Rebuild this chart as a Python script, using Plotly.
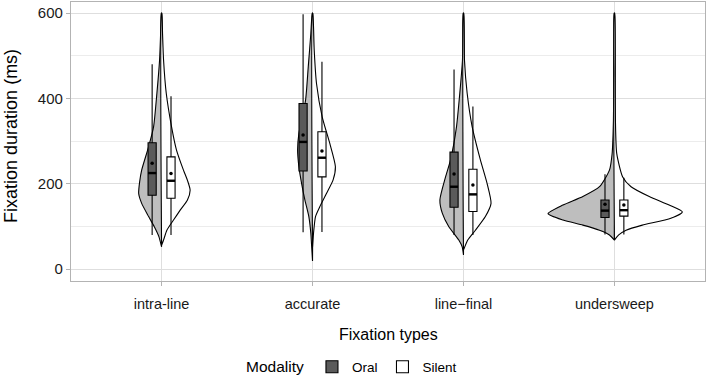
import plotly.graph_objects as go

# ---------------- data ----------------
CATEGORIES = ["intra-line", "accurate", "line\u2212final", "undersweep"]
MODALITIES = ["Oral", "Silent"]

# box-plot statistics per category (ms)
ORAL_Q1 = [173, 230, 145, 121]
ORAL_MEDIAN = [225, 298, 193, 137]
ORAL_Q3 = [296, 388, 274, 162]
ORAL_LOW = [80, 86, 80, 81]
ORAL_HIGH = [480, 597, 468, 222]
ORAL_MEAN = [248, 314, 223, 152]

SILENT_Q1 = [166, 216, 135, 124]
SILENT_MEDIAN = [207, 261, 175, 138]
SILENT_Q3 = [263, 322, 234, 162]
SILENT_LOW = [80, 87, 80, 81]
SILENT_HIGH = [405, 486, 381, 214]
SILENT_MEAN = [224, 277, 197, 150]

# violin density profiles (duration in ms, relative density)
INTRA_ORAL_Y = [52, 76, 99, 123, 154, 177, 205, 232, 287, 334, 412, 490, 550, 600]
INTRA_ORAL_D = [0, 2.7, 7.3, 13, 20, 23, 22, 20, 13, 8, 4.7, 2, 1, 0.3]
INTRA_SILENT_Y = [56, 68, 91, 115, 138, 162, 185, 208, 232, 279, 334, 412, 490, 550, 600]
INTRA_SILENT_D = [0, 2, 5.3, 12, 18.7, 26, 28.7, 26, 22, 15, 10, 4.7, 2, 1, 0.3]

ACC_ORAL_Y = [19, 50, 84, 123, 162, 201, 240, 279, 318, 396, 474, 552, 600]
ACC_ORAL_D = [0, 0.8, 1.7, 3.7, 7.7, 11, 13.7, 15, 13.7, 7, 4.3, 1.7, 0.3]
ACC_SILENT_Y = [52, 84, 123, 146, 177, 209, 240, 295, 357, 435, 513, 600]
ACC_SILENT_D = [0, 1, 3, 7.3, 14, 20.7, 23, 17.3, 9.7, 4, 1.7, 0.3]

LF_ORAL_Y = [33, 52, 68, 99, 131, 162, 216, 256, 334, 412, 490, 600]
LF_ORAL_D = [0, 1.3, 4.7, 14.7, 21.3, 23.7, 18, 13, 7, 3.7, 1, 0.3]
LF_SILENT_Y = [45, 52, 68, 91, 123, 154, 201, 256, 334, 412, 490, 600]
LF_SILENT_D = [0, 1.3, 4.3, 12, 22, 27.7, 23.7, 17, 8.7, 3.7, 1, 0.3]

US_ORAL_Y = [68, 80, 91, 103, 115, 130, 150, 170, 193, 232, 271, 349, 450, 600]
US_ORAL_D = [0, 5, 15, 31.7, 51.7, 66.7, 51.7, 31.7, 15, 5, 2.3, 1, 0.6, 0.3]
US_SILENT_Y = [68, 80, 91, 103, 119, 134, 150, 170, 193, 216, 271, 349, 450, 600]
US_SILENT_D = [0, 4.3, 11.7, 28, 56.7, 68.3, 55, 35, 16.7, 8.3, 2.3, 1, 0.6, 0.3]

Y_TICKS = [0, 200, 400, 600]
Y_MINOR = [100, 300, 500]

# ---------------- styling ----------------
ORAL_VIOLIN = "#BEBEBE"
SILENT_VIOLIN = "#FFFFFF"
ORAL_BOX = "#5A5A5A"
SILENT_BOX = "#FFFFFF"
DENS_SCALE = 1 / 151.7
BOX_OFFSET = 0.0625
BOX_W = 0.054
X_RANGE = [-0.6, 3.6]
Y_RANGE = [-28, 626]
FONT = "Liberation Sans, Arial, sans-serif"

fig = go.Figure()

violins = [
    (0, INTRA_ORAL_Y, INTRA_ORAL_D, INTRA_SILENT_Y, INTRA_SILENT_D),
    (1, ACC_ORAL_Y, ACC_ORAL_D, ACC_SILENT_Y, ACC_SILENT_D),
    (2, LF_ORAL_Y, LF_ORAL_D, LF_SILENT_Y, LF_SILENT_D),
    (3, US_ORAL_Y, US_ORAL_D, US_SILENT_Y, US_SILENT_D),
]

# violins on the base axes (drawn underneath)
for pos, oy, od, sy, sd in violins:
    for ys, ds, side, col in ((oy, od, -1, ORAL_VIOLIN), (sy, sd, 1, SILENT_VIOLIN)):
        xs = [pos + side * d * DENS_SCALE for d in ds] + [pos, pos]
        yy = list(ys) + [ys[-1], ys[0]]
        fig.add_trace(go.Scatter(
            x=xs + [xs[0]], y=yy + [yy[0]], mode="lines", fill="toself",
            fillcolor=col, line=dict(color="black", width=1.1, shape="spline", smoothing=0.6),
            hoverinfo="skip", showlegend=False))

# boxes on an overlaid axis pair so they draw above the violins
positions = list(range(len(CATEGORIES)))
box_sets = [
    ("Oral", -BOX_OFFSET, ORAL_Q1, ORAL_MEDIAN, ORAL_Q3, ORAL_LOW, ORAL_HIGH, ORAL_MEAN, ORAL_BOX),
    ("Silent", BOX_OFFSET, SILENT_Q1, SILENT_MEDIAN, SILENT_Q3, SILENT_LOW, SILENT_HIGH, SILENT_MEAN, SILENT_BOX),
]
for name, off, q1, med, q3, lo, hi, mean, col in box_sets:
    xpos = [p + off for p in positions]
    fig.add_trace(go.Box(
        name=name, x=xpos, q1=q1, median=med, q3=q3, lowerfence=lo, upperfence=hi,
        fillcolor=col, line=dict(color="black", width=1.1), width=BOX_W,
        whiskerwidth=0, boxpoints=False, hoverinfo="skip", showlegend=True,
        xaxis="x2", yaxis="y2"))
for name, off, q1, med, q3, lo, hi, mean, col in box_sets:
    xpos = [p + off for p in positions]
    mx, my = [], []
    for x, m in zip(xpos, med):
        mx += [x - BOX_W / 2, x + BOX_W / 2, None]
        my += [m, m, None]
    fig.add_trace(go.Scatter(x=mx, y=my, mode="lines", line=dict(color="black", width=2.4),
                             hoverinfo="skip", showlegend=False, xaxis="x2", yaxis="y2"))
    fig.add_trace(go.Scatter(x=xpos, y=mean, mode="markers",
                             marker=dict(color="black", size=3.5),
                             hoverinfo="skip", showlegend=False, xaxis="x2", yaxis="y2"))

fig.update_layout(
    width=707, height=381, autosize=False,
    margin=dict(l=71, r=2, t=2, b=100, autoexpand=False),
    plot_bgcolor="white", paper_bgcolor="white",
    font=dict(family=FONT, color="#1a1a1a"),
    boxmode="overlay",
    showlegend=True,
    legend=dict(orientation="h", x=(244 - 71) / 634, xanchor="left", y=-0.308, yanchor="middle",
                title=dict(text="Modality", font=dict(size=15.5, color="black"), side="left"),
                font=dict(size=13.5, color="black"), itemwidth=30, traceorder="normal",
                bgcolor="rgba(0,0,0,0)"),
    xaxis=dict(range=X_RANGE, tickmode="array", tickvals=positions, ticktext=CATEGORIES,
               showgrid=True, gridcolor="#DEDEDE", gridwidth=1, zeroline=False,
               ticks="outside", ticklen=4, tickcolor="#B3B3B3", tickwidth=1,
               ticklabelstandoff=5, automargin=False,
               showline=True, mirror=True, linecolor="#B3B3B3", linewidth=1.3,
               tickfont=dict(size=14.5, color="#1a1a1a")),
    yaxis=dict(range=Y_RANGE, tickmode="array", tickvals=Y_TICKS, automargin=False,
               showgrid=True, gridcolor="#DEDEDE", gridwidth=1, zeroline=False,
               minor=dict(tickmode="array", tickvals=Y_MINOR, showgrid=True,
                          gridcolor="#ECECEC", gridwidth=0.8, ticks=""),
               ticks="outside", ticklen=4, tickcolor="#B3B3B3", tickwidth=1,
               showline=True, mirror=True, linecolor="#B3B3B3", linewidth=1.3,
               tickfont=dict(size=15, color="#1a1a1a")),
    xaxis2=dict(range=X_RANGE, overlaying="x", anchor="y2", visible=False,
                showgrid=False, zeroline=False, automargin=False),
    yaxis2=dict(range=Y_RANGE, overlaying="y", anchor="x2", visible=False,
                showgrid=False, zeroline=False, automargin=False),
    annotations=[
        dict(text="Fixation duration (ms)", xref="paper", yref="paper", x=-0.0946, y=0.52,
             xanchor="center", yanchor="middle", textangle=-90, showarrow=False,
             font=dict(size=18, color="black")),
        dict(text="Fixation types", xref="paper", yref="paper", x=0.5, y=-0.19,
             xanchor="center", yanchor="middle", showarrow=False,
             font=dict(size=16, color="black")),
    ],
)

fig.write_html("out.html", config={"displayModeBar": False},
               post_script="document.body.style.margin='0';")
